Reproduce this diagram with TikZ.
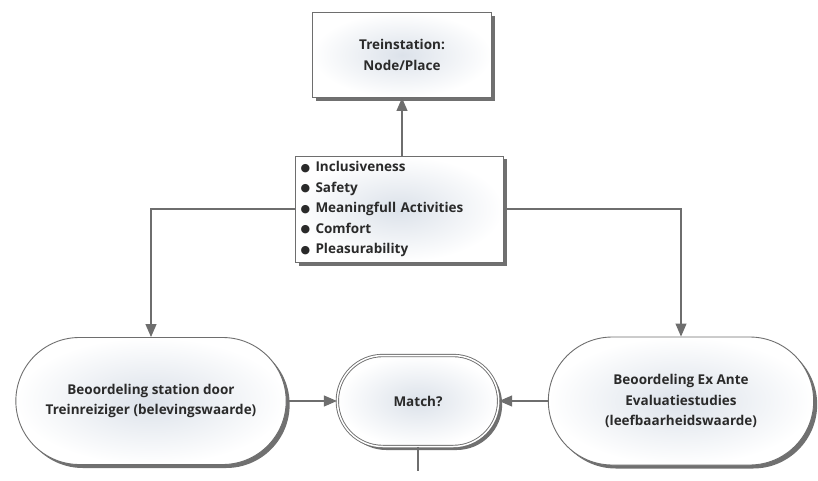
\documentclass[tikz,border=0pt]{standalone}
\usepackage{fontspec}
\setmainfont{Open Sans}
\newfontfamily\dejavu{DejaVu Sans}
\usetikzlibrary{shapes.misc,shadows,arrows.meta}
\definecolor{txt}{HTML}{2A2A2A}
\definecolor{edge}{HTML}{6E6E6E}
\definecolor{inner}{HTML}{DCE2EA}
\newcommand{\bul}{\makebox[15pt][l]{\raisebox{0.5pt}{\dejavu\fontsize{11}{11}\selectfont ●}}}
\tikzset{
  boxbase/.style={draw=edge, line width=0.9pt, inner color=inner, outer color=white,
    drop shadow={shadow xshift=3.5pt, shadow yshift=-3.5pt, fill=black!75, opacity=0.75},
    text=txt, font=\bfseries\fontsize{13.5}{20.5}\selectfont, align=center},
  rectbox/.style={boxbase, rectangle},
  stadium/.style={boxbase, rounded rectangle},
  conn/.style={draw=edge, line width=1.1pt},
  arr/.style={conn, -{Triangle[width=11pt,length=13pt]}}
}
\begin{document}
\begin{tikzpicture}[x=1pt,y=-1pt]
\useasboundingbox (0,0) rectangle (818,481);
\node[rectbox, minimum width=179pt, minimum height=85pt] (top) at (402,55) {Treinstation:\\Node/Place};
\node[rectbox, text width=197pt, minimum height=106pt, align=left, inner xsep=5.5pt, inner ysep=4pt] (list) at (399,209)
  {\bul Inclusiveness\\\bul Safety\\\bul Meaningfull Activities\\\bul Comfort\\\bul Pleasurability};
\node[stadium, minimum width=277pt, minimum height=127pt] (left) at (151,401) {Beoordeling station door\\Treinreiziger (belevingswaarde)};
\node[stadium, minimum width=168pt, minimum height=91pt, double=white, double distance=1.5pt] (match) at (418,401) {Match?};
\node[stadium, minimum width=272pt, minimum height=128pt] (right) at (681,401) {Beoordeling Ex Ante\\Evaluatiestudies\\(leefbaarheidswaarde)};
\coordinate (end) at (418,471);
\draw[arr] (list.north -| top.south) -- (top.south);
\draw[arr] (list.west) -| (left.north);
\draw[arr] (list.east) -| (right.north);
\draw[arr] (left.east) -- (match.west);
\draw[arr] (right.west) -- (match.east);
\draw[conn] (match.south) -- (end);
\end{tikzpicture}
\end{document}
